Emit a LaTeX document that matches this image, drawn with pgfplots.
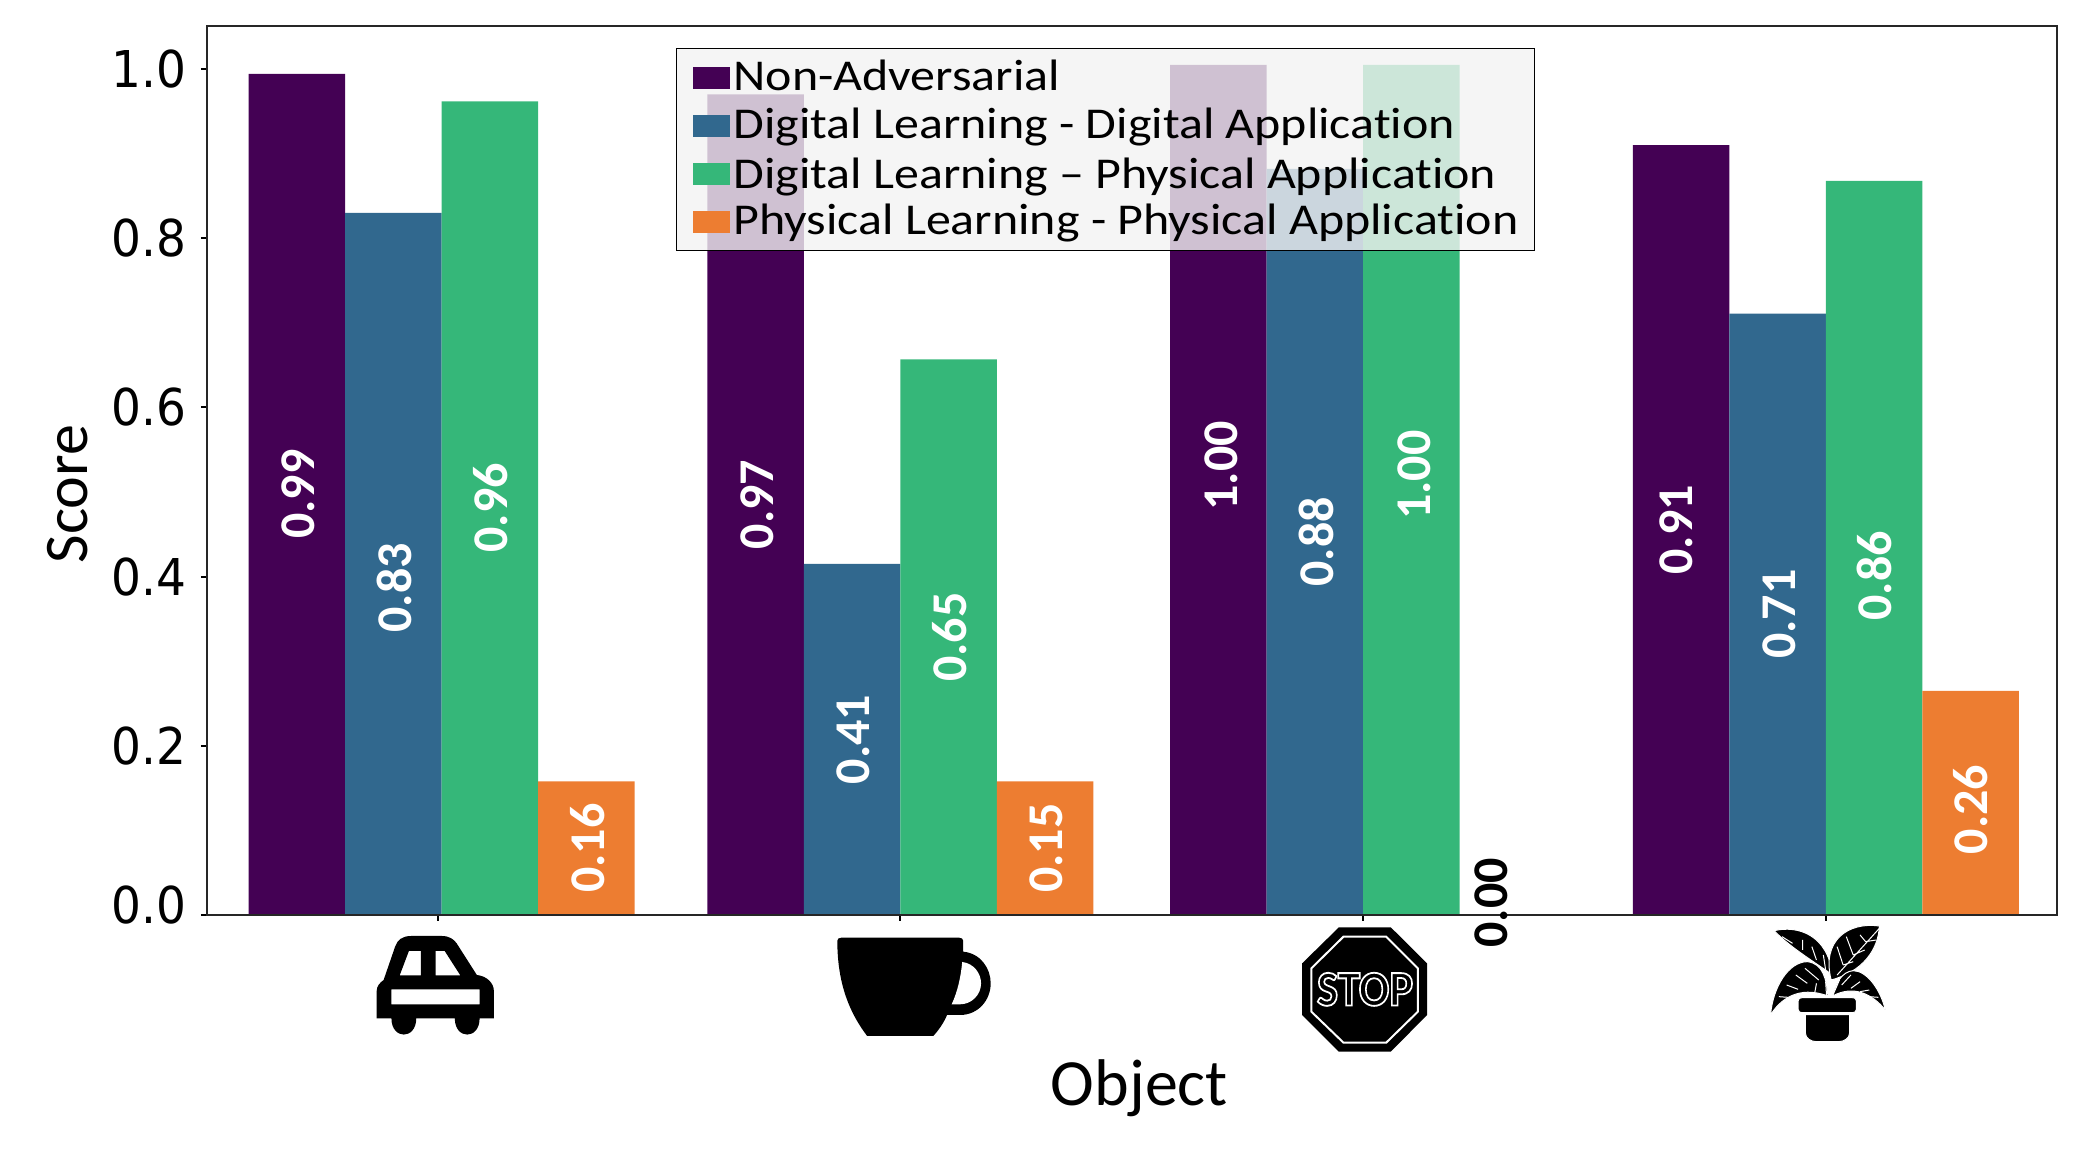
\documentclass[border=0pt]{standalone}
\usepackage{pgfplots}
\usepackage{pgfplotstable}
\pgfplotsset{compat=1.18}
\usepackage{fontspec}
\setmainfont{Carlito}[Ligatures=CommonOff]
\newfontfamily\dejavu{DejaVu Sans}
\newfontfamily\legfont{Carlito}[FakeStretch=1.135,Ligatures=CommonOff]
\definecolor{cpurple}{HTML}{440154}
\definecolor{cblue}{HTML}{31688E}
\definecolor{cgreen}{HTML}{35B779}
\definecolor{corange}{HTML}{ED7D31}

% dx, dy: hand offsets of the value label from the middle of its bar, in pt
\pgfplotstableread{
x      y      lab  dx   dy
0.0086 0.9945 0.99 0    0
1      0.970  0.97 0    0
2      1.005  1.00 1    12
3      0.910  0.91 -3.2 0
}\nonadv
\pgfplotstableread{
x      y      lab  dx  dy
0.0086 0.830  0.83 0   -12
1      0.415  0.41 0   0
2      0.882  0.88 0   0
3      0.711  0.71 0   0
}\digdig
\pgfplotstableread{
x      y      lab  dx  dy
0.0086 0.962  0.96 0   0
1      0.657  0.65 0   0
2      1.005  1.00 1   7.3
3      0.868  0.86 -0.6 -14
}\digphys
\pgfplotstableread{
x      y      lab  dx  dy
0.0086 0.158  0.16 0   0
1      0.158  0.15 0   0
3      0.265  0.26 -0.6 -3.3
}\physphys
\pgfplotstableread{
x y lab
2 0 0.00
}\physzero

\pgfplotsset{
  barlabels/.style={
    point meta=explicit symbolic,
    visualization depends on={rawy \as \yval},
    visualization depends on={\thisrow{dx} \as \dxval},
    visualization depends on={\thisrow{dy} \as \dyval},
    nodes near coords,
    nodes near coords style={
      anchor=center, inner sep=0pt,
      xshift={0.6pt+\dxval*1pt}, yshift={-\yval*211.4pt+\dyval*1pt}, rotate=90,
      text=white, font=\fontsize{25}{25}\selectfont\bfseries
    }
  }
}

\begin{document}
\begin{tikzpicture}
\path[use as bounding box] (0,0) rectangle (1040pt,585pt);
\begin{axis}[
  at={(103.5pt,127.5pt)}, anchor=south west,
  scale only axis, width=925pt, height=444.5pt,
  clip=false, axis on top,
  ybar, bar width=48.25pt,
  xmin=-0.4986, xmax=3.4997,
  ymin=0, ymax=1.051,
  xtick={0,1,2,3}, xticklabels={},
  ytick={0,0.2,0.4,0.6,0.8,1.0},
  yticklabels={\raisebox{9.5pt}{0.0},0.2,0.4,0.6,0.8,1.0},
  xtick pos=bottom, ytick pos=left,
  tick align=outside, major tick length=3pt,
  tick style={black, line width=1pt},
  axis line style={line width=1pt, black!85},
  yticklabel style={font=\dejavu\fontsize{23.5}{23.5}\selectfont, xshift=-4pt, yscale=1.08},
  xlabel={Object}, ylabel={Score},
  xlabel style={at={(rel axis cs:0.504,0)}, anchor=center, yshift=-86.5pt, font=\fontsize{33}{33}\selectfont},
  ylabel style={at={(rel axis cs:0,0.4736)}, anchor=center, yshift=69.5pt, font=\fontsize{31}{31}\selectfont},
  legend cell align=left,
  legend image code/.code={\fill[#1, fill opacity=1] (0pt,-5.5pt) rectangle (18.5pt,5.5pt);},
  legend style={
    at={(rel axis cs:0.2535,0.9753)}, anchor=north west,
    fill=black!5, fill opacity=0.8, draw opacity=1, text opacity=1,
    draw=black, line width=0.6pt,
    inner xsep=8pt, inner ysep=2.5pt,
    font=\legfont\fontsize{22}{24}\selectfont,
    nodes={inner xsep=0pt, inner ysep=0pt, text height=16.5pt, text depth=7.5pt},
    /tikz/every odd column/.append style={column sep=2pt}
  }
]
\addplot[draw=none, fill=cpurple, bar shift=-72.4pt, barlabels] table[x=x, y=y, meta=lab] {\nonadv};
\addlegendentry{\raisebox{-2pt}{Non-Adversarial}}
\addplot[draw=none, fill=cblue, bar shift=-24.1pt, barlabels] table[x=x, y=y, meta=lab] {\digdig};
\addlegendentry{\raisebox{-2pt}{Digital Learning - Digital Application}}
\addplot[draw=none, fill=cgreen, bar shift=24.1pt, barlabels] table[x=x, y=y, meta=lab] {\digphys};
\addlegendentry{\raisebox{-3pt}{Digital Learning – Physical Application}}
\addplot[draw=none, fill=corange, bar shift=72.4pt, barlabels] table[x=x, y=y, meta=lab] {\physphys};
\addlegendentry{\raisebox{-2pt}{Physical Learning - Physical Application}}
\addplot[draw=none, forget plot, bar shift=72.4pt, point meta=explicit symbolic, nodes near coords,
  nodes near coords style={anchor=center, inner sep=0pt, xshift=-8.5pt, yshift=6pt, rotate=90,
    text=black, font=\fontsize{25}{25}\selectfont\bfseries}]
  table[x=x, y=y, meta=lab] {\physzero};
\end{axis}

% icons under the ticks: car and cup
\begin{scope}[x=0.2296pt, y=-0.16667pt, xshift=170pt, yshift=135pt]
\fill[black, even odd rule]
  (80,355) -- (80,272) .. controls (80,258) and (87,248) .. (95,240)
  -- (120,140) .. controls (125,120) and (135,108) .. (155,108)
  -- (222,108) .. controls (238,108) and (248,118) .. (254,130)
  -- (298,225) .. controls (320,228) and (335,250) .. (335,272)
  -- (335,355) -- (304,355) .. controls (304,420) and (250,420) .. (250,355)
  -- (166,355) .. controls (166,420) and (112,420) .. (112,355) -- cycle
  (150,153) -- (176,153) -- (176,226) -- (130,226) -- cycle
  (208,153) -- (228,153) -- (262,226) -- (208,226) -- cycle
  (112,268) rectangle (304,313);
\fill[black]
  (1092,113) -- (1348,113) .. controls (1354,113) and (1357,117) .. (1357,122)
  -- (1357,155) .. controls (1395,160) and (1417,205) .. (1417,250)
  .. controls (1417,300) and (1390,345) .. (1350,345) -- (1322,345)
  .. controls (1314,370) and (1304,390) .. (1292,408) -- (1148,408)
  .. controls (1105,330) and (1083,240) .. (1083,122)
  .. controls (1083,117) and (1086,113) .. (1092,113) -- cycle;
\fill[white]
  (1355,186) .. controls (1380,190) and (1396,220) .. (1396,250)
  .. controls (1396,285) and (1375,313) .. (1350,313) -- (1332,313)
  .. controls (1345,275) and (1352,230) .. (1355,186) -- cycle;
\end{scope}

% stop sign and plant
\begin{scope}[x=0.2296pt, y=-0.16667pt, xshift=635pt, yshift=135pt]
\fill[black] (150,82) -- (263,82) -- (342,190) -- (342,345) -- (263,455) -- (150,455) -- (70,345) -- (70,190) -- cycle;
\draw[white, line width=1pt] (160,110) -- (253,110) -- (322,205) -- (322,335) -- (253,428) -- (160,428) -- (90,335) -- (90,205) -- cycle;
\node[inner sep=0pt, xscale=0.9] at (207,268) {\fontsize{25}{25}\selectfont\bfseries\special{pdf:code 1 Tr 0.9 w 1 1 1 RG}STOP\special{pdf:code 0 Tr}};

\begin{scope}[every path/.style={draw=white, line width=0.5pt, fill=black}]
% leaves
\path (1098,92) .. controls (1150,75) and (1215,105) .. (1225,225) .. controls (1190,190) and (1130,140) .. (1098,92) -- cycle;
\path (1327,78) .. controls (1260,65) and (1200,120) .. (1222,240) .. controls (1290,215) and (1325,150) .. (1327,78) -- cycle;
\path (1090,345) .. controls (1095,260) and (1130,185) .. (1170,185) .. controls (1205,190) and (1212,240) .. (1215,288) .. controls (1150,255) and (1110,300) .. (1090,345) -- cycle;
\path (1340,330) .. controls (1330,270) and (1300,212) .. (1270,212) .. controls (1245,215) and (1232,250) .. (1225,288) .. controls (1270,255) and (1310,280) .. (1340,330) -- cycle;
% pot
\path (1160,293) -- (1267,293) .. controls (1274,293) and (1277,297) .. (1277,303) -- (1277,328) .. controls (1277,334) and (1274,338) .. (1267,338) -- (1160,338) .. controls (1153,338) and (1150,334) .. (1150,328) -- (1150,303) .. controls (1150,297) and (1153,293) .. (1160,293) -- cycle;
\path (1166,344) -- (1262,344) -- (1262,400) .. controls (1262,415) and (1250,425) .. (1238,425) -- (1190,425) .. controls (1178,425) and (1166,415) .. (1166,400) -- cycle;
\end{scope}
% veins
\draw[white, line width=0.5pt]
  (1327,85) -- (1235,225)
  (1297,125) -- (1285,105) (1297,125) -- (1320,120)
  (1270,165) -- (1255,110) (1270,165) -- (1295,150)
  (1248,195) -- (1235,140) (1248,195) -- (1270,185)
  (1115,110) -- (1138,130) (1160,150) -- (1160,120)
  (1190,180) -- (1180,140) (1210,210) -- (1205,165)
  (1165,205) -- (1195,240) (1145,225) -- (1170,250) (1125,255) -- (1150,268) (1108,290) -- (1128,292)
  (1265,225) -- (1245,255) (1285,245) -- (1265,265) (1305,270) -- (1285,275) (1325,292) -- (1305,290)
  (1190,250) -- (1185,288) (1210,245) -- (1212,288) (1240,240) -- (1225,288);
\end{scope}
\end{tikzpicture}
\end{document}
